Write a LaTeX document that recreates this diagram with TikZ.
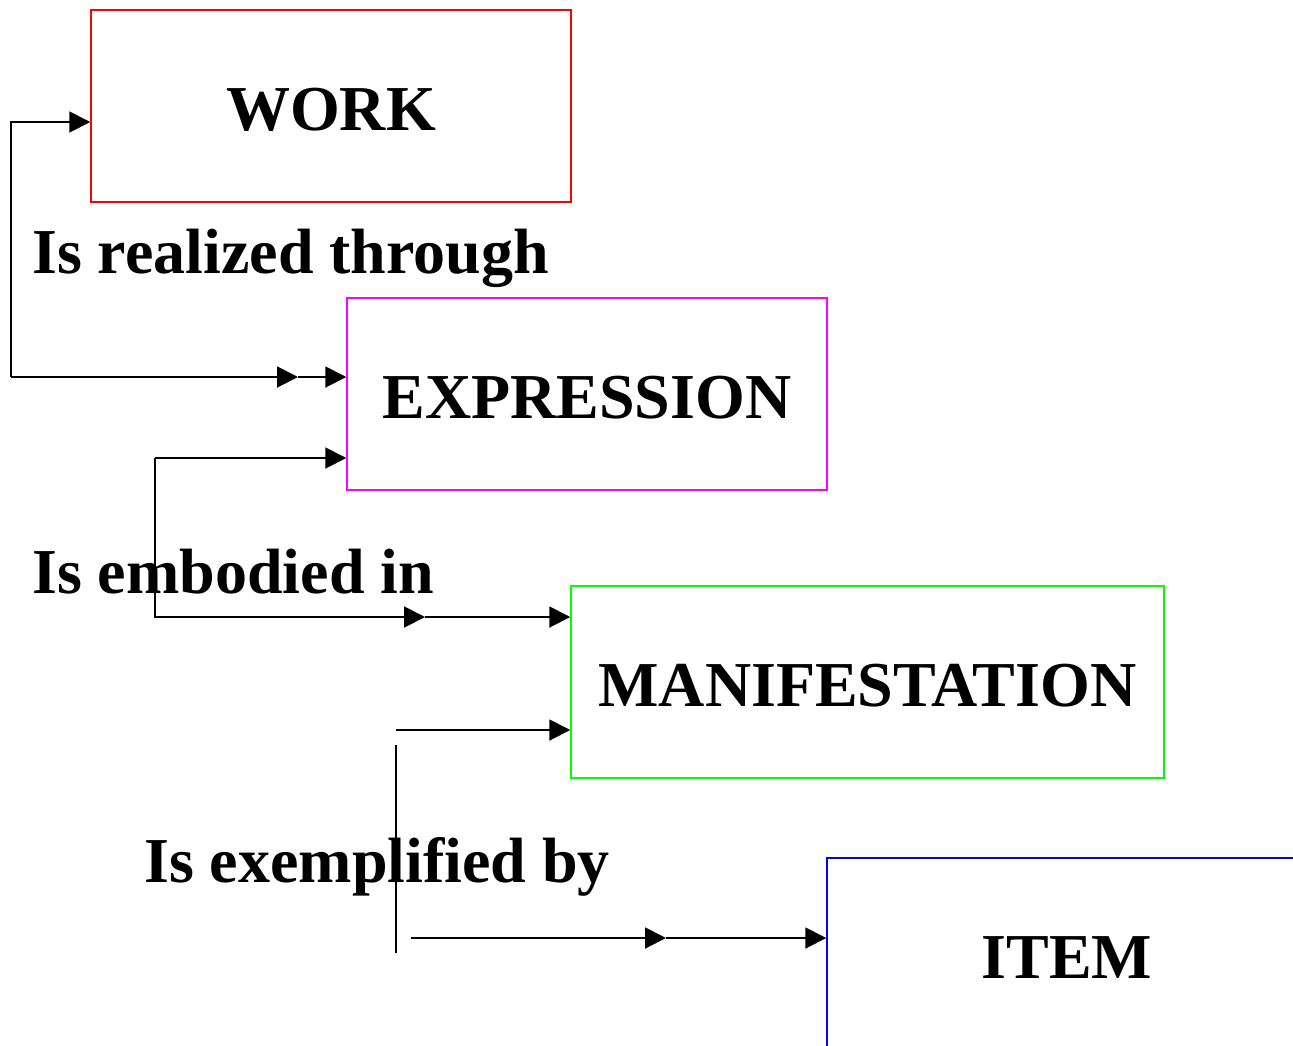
\documentclass[tikz,border=0pt]{standalone}
\usepackage{fontspec}
\setmainfont{Liberation Serif}
\usetikzlibrary{arrows.meta}
\definecolor{cred}{RGB}{255,0,0}
\definecolor{cmag}{RGB}{255,0,255}
\definecolor{cgreen}{RGB}{0,255,0}
\definecolor{cblue}{RGB}{0,0,255}
\newcommand{\boxtxt}[1]{\raisebox{-24pt}[0pt][0pt]{#1}}
\begin{document}
\begin{tikzpicture}[x=1pt,y=-1pt,
  box/.style={draw,line width=1.5pt,minimum width=480pt,minimum height=192pt,inner sep=0pt,
    font=\fontsize{64}{64}\selectfont\bfseries},
  lbl/.style={anchor=base west,inner sep=0pt,font=\fontsize{64}{64}\selectfont\bfseries},
  conn/.style={line width=2pt,line cap=butt},
  arr/.style={-{Triangle[length=21pt,width=21pt]}}]
\clip (0,0) rectangle (1293,1045);
\fill[white] (0,0) rectangle (1293,1045);
\node[box,draw=cred] (work) at (331,106) {\boxtxt{WORK}};
\node[box,draw=cmag] (expr) at (587,394) {\boxtxt{EXPRESSION}};
\node[box,draw=cgreen,minimum width=593pt] (man) at (867.5,682) {\boxtxt{MANIFESTATION}};
\node[box,draw=cblue] (item) at (1067,954) {\boxtxt{ITEM}};
\node[lbl] (l1) at (32,273) {Is realized through};
\node[lbl] (l2) at (32,593) {Is embodied in};
\node[lbl] (l3) at (144,882) {Is exemplified by};
% connector 1
\coordinate (c1) at (11,377);
\coordinate (m1) at (298,377);
\draw[conn,arr] (c1) |- ([yshift=-16pt]work.west);
\draw[conn,arr] (c1) -- (m1);
\draw[conn,arr] (m1) -- (expr.west |- m1);
% connector 2
\coordinate (c2) at (155,458);
\coordinate (m2) at (425,617);
\draw[conn,arr] (c2) -- (expr.west |- c2);
\draw[conn,arr] (c2) |- (m2);
\draw[conn,arr] (m2) -- (man.west |- m2);
% connector 3
\coordinate (s3) at (396,730);
\draw[conn,arr] (s3) -- (man.west |- s3);
\coordinate (v1) at (396,745);
\coordinate (v2) at (396,953);
\draw[conn] (v1) -- (v2);
\coordinate (s4) at (411,938);
\coordinate (m3) at (666,938);
\draw[conn,arr] (s4) -- (m3);
\draw[conn,arr] (m3) -- (item.west |- m3);
\end{tikzpicture}
\end{document}
